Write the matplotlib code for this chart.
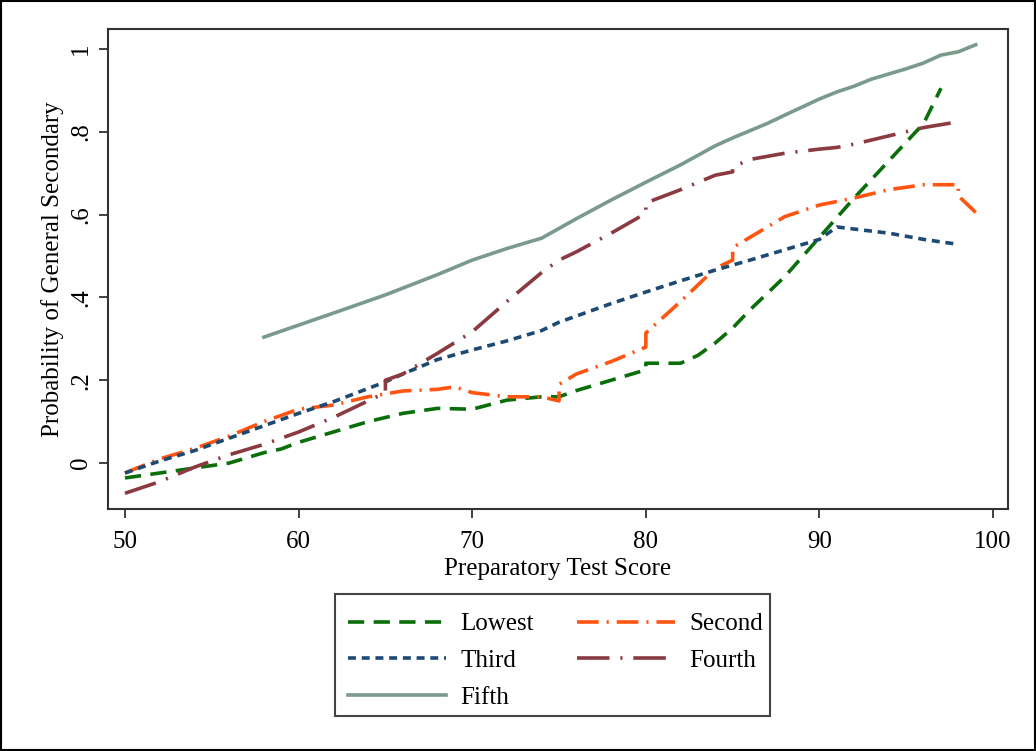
import matplotlib
matplotlib.use("Agg")
import matplotlib.pyplot as plt
from matplotlib.patches import Rectangle

plt.rcParams['font.family'] = ['Liberation Serif', 'DejaVu Serif']

lowest_x = [50, 52, 54, 56, 58, 59, 60, 62, 64, 66, 68, 70, 72, 74, 75, 76, 78, 80, 80, 82, 83, 84, 85, 86, 88, 90, 92, 94, 96, 97]
lowest_y = [-0.036, -0.024, -0.012, 0.0, 0.025, 0.034, 0.05, 0.075, 0.10, 0.12, 0.132, 0.13, 0.152, 0.16, 0.16, 0.175, 0.20, 0.225, 0.241, 0.241, 0.26, 0.29, 0.326, 0.37, 0.45, 0.545, 0.64, 0.73, 0.82, 0.905]

second_x = [50, 52, 54, 56, 58, 60, 62, 64, 66, 68, 69, 70, 72, 74, 75, 75, 76, 78, 80, 80, 82, 84, 85, 85, 86, 88, 90, 92, 94, 96, 98, 98, 99]
second_y = [-0.024, 0.01, 0.035, 0.065, 0.10, 0.13, 0.14, 0.16, 0.174, 0.178, 0.184, 0.17, 0.16, 0.16, 0.15, 0.19, 0.215, 0.245, 0.28, 0.314, 0.39, 0.47, 0.49, 0.52, 0.545, 0.595, 0.623, 0.64, 0.66, 0.672, 0.672, 0.645, 0.605]

third_x = [50, 52, 54, 56, 58, 60, 62, 64, 65, 66, 68, 70, 72, 74, 75, 76, 78, 80, 82, 84, 86, 88, 90, 91, 92, 94, 96, 98]
third_y = [-0.024, 0.005, 0.03, 0.06, 0.09, 0.12, 0.148, 0.18, 0.196, 0.215, 0.25, 0.273, 0.295, 0.32, 0.34, 0.355, 0.385, 0.413, 0.44, 0.466, 0.49, 0.515, 0.54, 0.57, 0.565, 0.555, 0.54, 0.528]

fourth_x = [50, 52, 54, 56, 58, 60, 62, 64, 65, 65, 66, 68, 70, 72, 74, 75, 76, 78, 80, 80, 82, 84, 85, 85, 86, 88, 90, 91, 92, 94, 96, 98]
fourth_y = [-0.073, -0.045, -0.01, 0.02, 0.045, 0.075, 0.11, 0.15, 0.17, 0.2, 0.215, 0.265, 0.317, 0.39, 0.46, 0.49, 0.51, 0.555, 0.603, 0.628, 0.66, 0.695, 0.703, 0.715, 0.733, 0.748, 0.758, 0.762, 0.77, 0.79, 0.81, 0.824]

fifth_x = [58, 60, 62, 65, 68, 70, 72, 74, 76, 78, 80, 82, 84, 85, 87, 88, 90, 91, 92, 93, 95, 96, 97, 98, 99]
fifth_y = [0.304, 0.333, 0.362, 0.406, 0.455, 0.49, 0.518, 0.543, 0.59, 0.635, 0.678, 0.72, 0.766, 0.785, 0.82, 0.84, 0.879, 0.896, 0.91, 0.927, 0.952, 0.966, 0.985, 0.993, 1.01]

labels = ["Lowest", "Second", "Third", "Fourth", "Fifth"]
x_ticks = [50, 60, 70, 80, 90, 100]
y_ticks = [0, 0.2, 0.4, 0.6, 0.8, 1.0]
y_ticklabels = ["0", ".2", ".4", ".6", ".8", "1"]

fig = plt.figure(figsize=(10.36, 7.51), dpi=100)
ax = fig.add_axes([0.1042, 0.3222, 0.8688, 0.6392])

lw = 2.6
l1, = ax.plot(lowest_x, lowest_y, color="#0a6e0a", lw=lw, dashes=(4.5, 2.6), label=labels[0])
l2, = ax.plot(second_x, second_y, color="#ff5511", lw=lw, dashes=(6, 2.2, 0.6, 2.2), label=labels[1])
l3, = ax.plot(third_x, third_y, color="#1d4a73", lw=lw, dashes=(2.2, 1.6), label=labels[2])
l4, = ax.plot(fourth_x, fourth_y, color="#8a3a40", lw=lw, dashes=(9, 3, 0.6, 3), label=labels[3])
l5, = ax.plot(fifth_x, fifth_y, color="#7a9a8c", lw=lw, label=labels[4])

ax.set_xlim(49.02, 100.86)
ax.set_ylim(-0.111, 1.048)
ax.set_xticks(x_ticks)
ax.set_xticklabels([str(v) for v in x_ticks], fontsize=18)
ax.set_yticks(y_ticks)
ax.set_yticklabels(y_ticklabels, fontsize=18, rotation=90, va="center")
ax.tick_params(direction="out", length=6.5, width=1.3, color="#333333", pad=5)
ax.tick_params(axis="x", pad=9)
for s in ax.spines.values():
    s.set_linewidth(1.5)
    s.set_color("#333333")
ax.set_xlabel("Preparatory Test Score", fontsize=18, labelpad=4)
ax.set_ylabel("Probability of General Secondary", fontsize=18, labelpad=4)

leg = fig.legend(handles=[l1, l3, l5, l2, l4], ncol=2, loc="center",
                 bbox_to_anchor=(0.5365, 0.120), fontsize=18, frameon=False,
                 handlelength=3.9,
                 columnspacing=1.72, labelspacing=0.57, borderpad=0.53,
                 handletextpad=0.6, borderaxespad=0)

W, H = 1036.0, 751.0
fig.patches.append(Rectangle((335 / W, 1 - 716 / H), 435 / W, 122 / H,
                             transform=fig.transFigure, fill=False,
                             edgecolor="#444444", linewidth=1.5))

fig.patches.append(Rectangle((0.001, 0.001), 0.998, 0.998, transform=fig.transFigure,
                             fill=False, edgecolor="black", linewidth=1.5))

fig.savefig("out.png", dpi=100)
